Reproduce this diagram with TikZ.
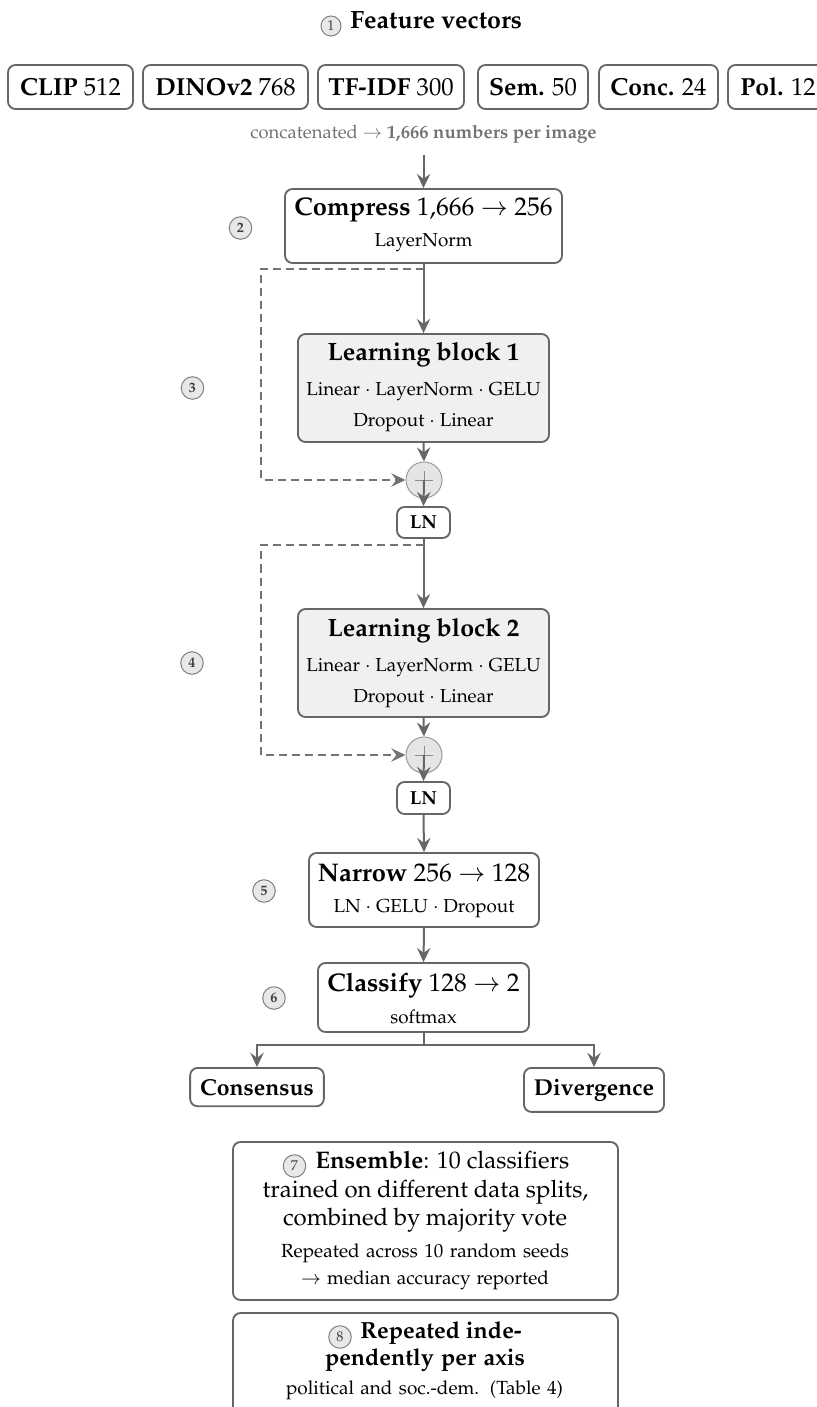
\documentclass[tikz,border=0pt]{standalone}
\usepackage[T1]{fontenc}
\usepackage{mathpazo}
\usetikzlibrary{arrows.meta,calc}
\newcommand\fsz[1]{\fontsize{#1}{#1}\selectfont}
\tikzset{
  wh/.style 2 args={minimum width=#1*0.6pt, minimum height=#2*0.6pt},
  box/.style={draw=black!60, line width=1.1pt, rounded corners=4.5pt, fill=white, inner sep=0pt},
  blk/.style={box, fill=black!6},
  rowbox/.style={box, font=\fsz{14.8}, text height=10.2pt, text depth=0pt, minimum height=26.4pt},
  lbl/.style={anchor=base, inner sep=0pt},
  arr/.style={draw=black!60, line width=1.2pt, -{Stealth[length=8.5pt,width=8pt,inset=3pt]}},
  skipline/.style={arr, draw=black!55, line width=1.1pt, dash pattern=on 4.8pt off 3pt},
  numc/.style={circle, draw=black!50, fill=black!9, line width=0.6pt, minimum size=13.5pt, inner sep=0pt, text=black!75, font=\fsz{8.5}\bfseries},
  numr/.style={numc, font=\fsz{8.5}},
  plusc/.style={circle, draw=black!40, fill=black!10, line width=0.6pt, minimum size=21.6pt, inner sep=0pt},
  plusmark/.style={draw=black!45, line width=0.5pt},
}
\begin{document}
\begin{tikzpicture}[x=0.6pt,y=-0.6pt]
\useasboundingbox (0,0) rectangle (817,1407);
\clip (0,0) rectangle (817,1407);

% title
\node[numr, minimum size=12pt] (n1) at (331,26) {1};
\node[anchor=base west, inner sep=0pt, font=\fsz{15}\bfseries] (title) at (350,29) {Feature vectors};

% feature row
\node[rowbox, minimum width=125*0.6pt] (clip) at (70.5,87) {\textbf{CLIP} 512};
\node[rowbox, minimum width=165*0.6pt] (dino) at (225.5,87) {\textbf{DINOv2} 768};
\node[rowbox, minimum width=146*0.6pt] (tfidf) at (391,87) {\textbf{TF-IDF} 300};
\node[rowbox, minimum width=110*0.6pt] (sem) at (533,87) {\textbf{Sem.} 50};
\node[rowbox, minimum width=119*0.6pt] (conc) at (658.5,87) {\textbf{Conc.} 24};
\node[rowbox, minimum width=100*0.6pt] (pol) at (778,87) {\textbf{Pol.} 12};

\node[lbl, outer ysep=6.5pt, font=\fsz{11.1}, text=black!55] (concat) at (423.5,139) {concatenated $\rightarrow$ \textbf{1,666 numbers per image}};

% compress
\node[box, wh={277}{74}] (compress) at (423.5,226) {};
\node[lbl, font=\fsz{15.3}] (compressT) at (423.5,216) {\textbf{Compress} 1,666 $\rightarrow$ 256};
\node[lbl, font=\fsz{11.3}] (compressS) at (423.5,247) {LayerNorm};
\node[numc] (n2) at (240.5,228) {2};
\draw[arr] (concat.south) -- (compress.north);

% block 1
\node[blk, wh={251}{108}] (blk1) at (423.5,388) {};
\node[lbl, font=\fsz{15}\bfseries] (blk1T) at (423.5,361) {Learning block 1};
\node[lbl, font=\fsz{11.3}] (blk1A) at (423.5,396) {Linear $\cdot$ LayerNorm $\cdot$ GELU};
\node[lbl, font=\fsz{11.3}] (blk1B) at (423.5,427) {Dropout $\cdot$ Linear};
\node[numc] (n3) at (192.5,388) {3};
\node[plusc] (plus1) at (424,480) {};
\draw[plusmark] ([xshift=-5.2pt]plus1.center) -- ([xshift=5.2pt]plus1.center);
\draw[plusmark] ([yshift=-5.2pt]plus1.center) -- ([yshift=5.2pt]plus1.center);
\node[box, wh={53}{31}, font=\fsz{11.3}\bfseries] (ln1) at (423.5,522.5) {LN};
\coordinate (s1) at (423.5,269);
\coordinate (c1) at (261,480);
\draw[arr] (compress.south) -- (blk1.north);
\draw[skipline] (s1) -| (c1) -- (plus1.west);
\draw[arr] (blk1.south) -- (plus1.north);
\draw[arr] (plus1.center) -- (ln1.north);

% block 2
\node[blk, wh={251}{108}] (blk2) at (423.5,663) {};
\node[lbl, font=\fsz{15}\bfseries] (blk2T) at (423.5,636) {Learning block 2};
\node[lbl, font=\fsz{11.3}] (blk2A) at (423.5,671) {Linear $\cdot$ LayerNorm $\cdot$ GELU};
\node[lbl, font=\fsz{11.3}] (blk2B) at (423.5,702) {Dropout $\cdot$ Linear};
\node[numc] (n4) at (192,663) {4};
\node[plusc] (plus2) at (424,755) {};
\draw[plusmark] ([xshift=-5.2pt]plus2.center) -- ([xshift=5.2pt]plus2.center);
\draw[plusmark] ([yshift=-5.2pt]plus2.center) -- ([yshift=5.2pt]plus2.center);
\node[box, wh={53}{32}, font=\fsz{11.3}\bfseries] (ln2) at (423.5,798) {LN};
\coordinate (s2) at (423.5,545);
\coordinate (c2) at (261,755);
\draw[arr] (ln1.south) -- (blk2.north);
\draw[skipline] (s2) -| (c2) -- (plus2.west);
\draw[arr] (blk2.south) -- (plus2.north);
\draw[arr] (plus2.center) -- (ln2.north);

% narrow
\node[box, wh={230}{74}] (narrow) at (424,890) {};
\node[lbl, font=\fsz{15.3}] (narrowT) at (424,881) {\textbf{Narrow} 256 $\rightarrow$ 128};
\node[lbl, font=\fsz{11.3}] (narrowS) at (424,912) {LN $\cdot$ GELU $\cdot$ Dropout};
\node[numc] (n5) at (264,891) {5};
\draw[arr] (ln2.south) -- (narrow.north);

% classify
\node[box, wh={211}{69}] (classify) at (423.5,997.5) {};
\node[lbl, font=\fsz{15.3}] (classifyT) at (423.5,991) {\textbf{Classify} 128 $\rightarrow$ 2};
\node[lbl, font=\fsz{11.3}] (classifyS) at (423.5,1023) {softmax};
\node[numc] (n6) at (274,998) {6};
\draw[arr] (narrow.south) -- (classify.north);

% outputs
\node[box, anchor=north, font=\fsz{13.8}\bfseries, inner xsep=6pt, inner ysep=6.6pt] (cons) at (257,1067) {Consensus};
\node[box, anchor=north, font=\fsz{13.8}\bfseries, inner xsep=6pt, inner ysep=6.6pt] (div) at (594,1067) {Divergence};
\coordinate (br) at (423.5,1045);
\draw[arr] (classify.south) -- (br) -| (cons.north);
\draw[arr] (classify.south) -- (br) -| (div.north);

% ensemble
\node[box, wh={385}{158}] (ens) at (425.5,1221) {};
\node[numr] (n7) at (294.5,1166) {7};
\node[anchor=base west, inner sep=0pt, font=\fsz{14.4}] (ensA) at (315,1168) {\textbf{Ensemble}: 10 classifiers};
\node[lbl, font=\fsz{14.4}] (ensB) at (425.5,1197) {\makebox[195.6pt][s]{trained on different data splits,}};
\node[lbl, font=\fsz{14.4}] (ensC) at (425,1225) {\makebox[170.4pt][s]{combined by majority vote}};
\node[lbl, font=\fsz{11.4}] (ensD) at (425,1257) {\makebox[172.8pt][s]{Repeated across 10 random seeds}};
\node[lbl, font=\fsz{11.4}] (ensE) at (425,1284) {\makebox[148.8pt][s]{$\rightarrow$ median accuracy reported}};

% per axis
\node[box, wh={385}{102}] (axis) at (425.5,1364) {};
\node[numr] (n8) at (340,1337) {8};
\node[anchor=base west, inner sep=0pt, font=\fsz{14}\bfseries] (axisA) at (360,1338) {Repeated inde-};
\node[lbl, font=\fsz{14}\bfseries] (axisB) at (425,1365) {\makebox[120pt][s]{pendently per axis}};
\node[lbl, font=\fsz{11.4}] (axisC) at (424.5,1394) {\makebox[166.2pt][s]{political and soc.-dem. (Table 4)}};
\end{tikzpicture}
\end{document}
